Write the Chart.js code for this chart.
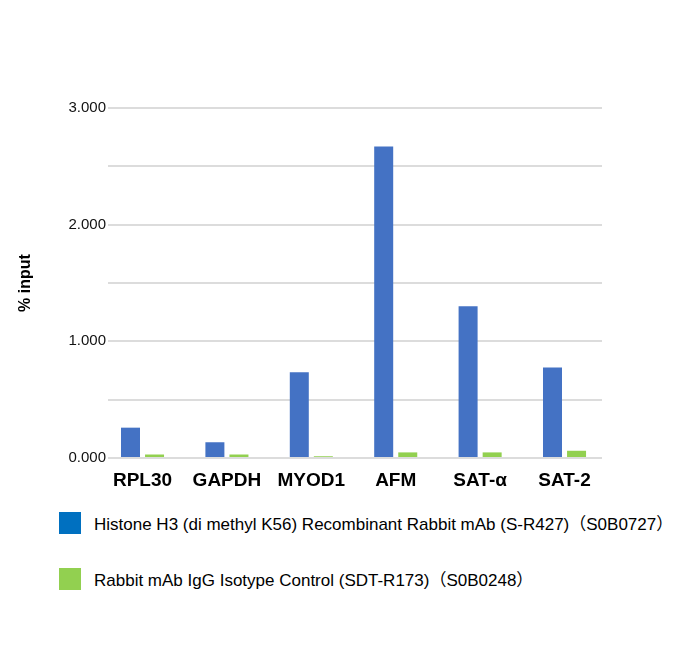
<!DOCTYPE html>
<html>
<head>
<meta charset="utf-8">
<script src="https://cdn.jsdelivr.net/npm/chart.js@4/dist/chart.umd.min.js"></script>
<style>
  body { margin: 0; background: #fff; }
  #wrap { position: relative; width: 692px; height: 662px; }
  #grafico { position: absolute; left: 0; top: 0; }
  .leg { position: absolute; left: 59px; font: 17px Arial, "Liberation Sans", "Noto Sans CJK SC", sans-serif; color: #000; white-space: nowrap; }
  .leg span.box { display: inline-block; width: 22px; height: 22px; vertical-align: middle; margin-right: 13px; }
  .leg span.txt { vertical-align: middle; }
</style>
</head>
<body>
<div id="wrap">
  <canvas id="grafico" width="692" height="500"></canvas>
  <div class="leg" id="leg1" style="top:510px"></div>
  <div class="leg" id="leg2" style="top:566px"></div>
</div>
<script>
const categories = ['RPL30', 'GAPDH', 'MYOD1', 'AFM', 'SAT-α', 'SAT-2'];
const seriesNames = [
    'Histone H3 (di methyl K56) Recombinant Rabbit mAb (S-R427)（S0B0727）',
    'Rabbit mAb IgG Isotype Control (SDT-R173)（S0B0248）'
];
const histoneValues = [0.26, 0.135, 0.735, 2.67, 1.30, 0.775];
const iggValues = [0.03, 0.03, 0.015, 0.048, 0.048, 0.062];
const yTicks = [0, 0.5, 1, 1.5, 2, 2.5, 3];

// colori presi dal grafico originale
const barColors = ['#4472C4', '#92D050'];
const legendColors = ['#0070C0', '#92D050'];

// legenda fatta a mano sotto il canvas
[ 'leg1', 'leg2' ].forEach((id, i) => {
    const el = document.getElementById(id);
    el.innerHTML = `<span class="box" style="background:${legendColors[i]}"></span><span class="txt">${seriesNames[i]}</span>`;
});

new Chart('grafico', {
    type: 'bar',
    data: {
        labels: categories.map((_, i) => i),
        datasets: [
            { label: seriesNames[0], data: histoneValues, backgroundColor: barColors[0], categoryPercentage: 0.57, barPercentage: 0.79 },
            { label: seriesNames[1], data: iggValues, backgroundColor: barColors[1], categoryPercentage: 0.57, barPercentage: 0.79 }
        ]
    },
    options: {
        responsive: false,
        animation: false,
        layout: { padding: { left: 0, right: 90, top: 108, bottom: 0 } },
        plugins: { legend: { display: false }, tooltip: { enabled: false } },
        scales: {
            x: {
                type: 'linear',
                offset: false,
                min: -0.409,
                max: 5.444,
                afterBuildTicks: scale => { scale.ticks = categories.map((_, i) => ({ value: i })); },
                afterFit: scale => { scale.height = 42; },
                grid: { display: false, drawTicks: false, offset: false },
                border: { display: false },
                ticks: {
                    padding: 11,
                    color: '#000',
                    font: { family: 'Arial, "Liberation Sans"', size: 19, weight: 'bold' },
                    callback: v => categories[v]
                }
            },
            y: {
                min: 0,
                max: 3,
                afterBuildTicks: scale => { scale.ticks = yTicks.map(v => ({ value: v })); },
                afterFit: scale => { scale.width = 108; },
                grid: { color: '#dcdcdc', lineWidth: 2, drawTicks: false },
                border: { display: false },
                ticks: {
                    padding: 2,
                    color: '#111',
                    font: { family: 'Arial, "Liberation Sans"', size: 15 },
                    callback: v => (v % 1 === 0 ? v.toFixed(3) : '')
                },
                title: {
                    display: true,
                    text: '% input',
                    color: '#000',
                    padding: { top: 16, bottom: 4 },
                    font: { family: 'Arial, "Liberation Sans"', size: 16, weight: 'bold' }
                }
            }
        }
    }
});
</script>
</body>
</html>
